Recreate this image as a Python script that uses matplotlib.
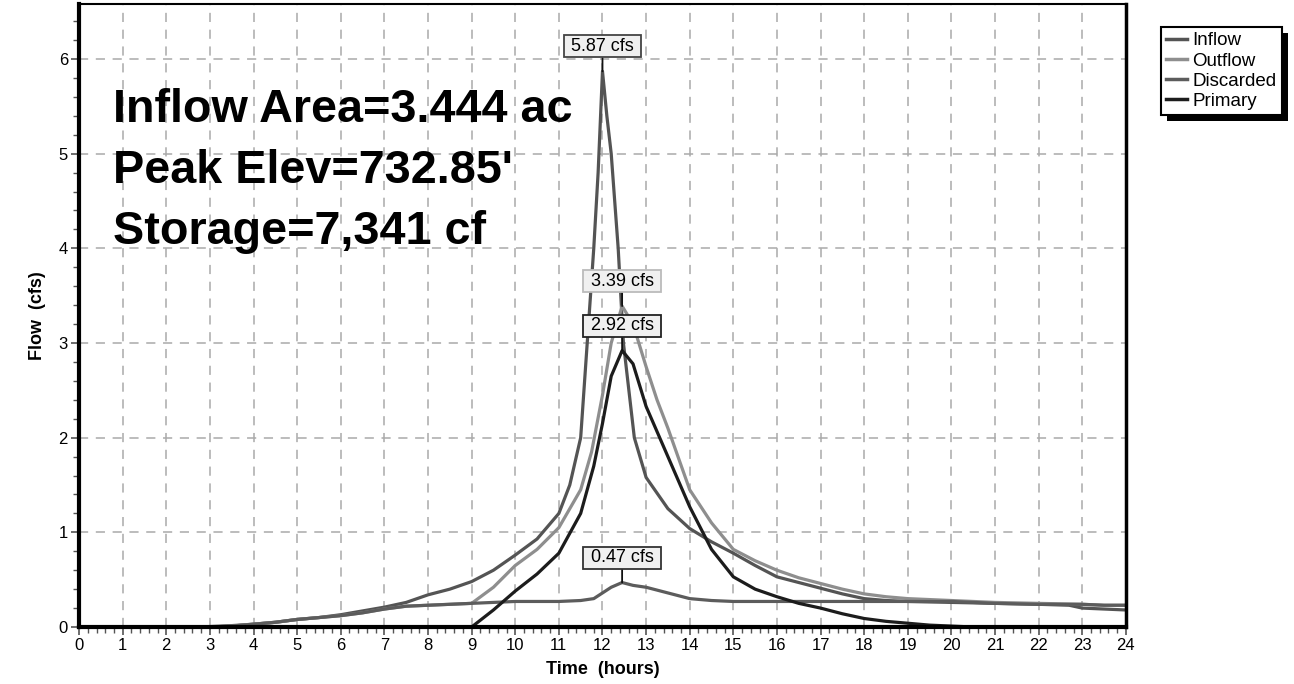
import matplotlib
matplotlib.use("Agg")
import matplotlib.pyplot as plt
import matplotlib.patheffects as pe
from matplotlib.ticker import MultipleLocator

plt.rcParams['font.family'] = ['Liberation Sans', 'DejaVu Sans']

# hydrograph values (hours, cfs)
inflow_t = [0, 2.5, 3, 3.5, 4, 4.5, 5, 5.5, 6, 6.5, 7, 7.5, 8, 8.5, 9, 9.5, 10, 10.5, 11,
            11.25, 11.5, 11.65, 11.8, 11.9, 12.0, 12.1, 12.2, 12.36, 12.48, 12.73, 13.0,
            13.5, 14, 14.5, 15, 15.5, 16, 16.5, 17, 17.5, 18, 18.5, 19, 20, 21, 22, 22.7,
            23, 23.5, 24]
inflow_q = [0, 0, 0.005, 0.015, 0.03, 0.05, 0.08, 0.1, 0.13, 0.17, 0.21, 0.26, 0.34, 0.4,
            0.48, 0.6, 0.76, 0.93, 1.2, 1.5, 2.0, 3.0, 4.0, 4.8, 5.87, 5.4, 5.0, 4.0, 3.0,
            2.0, 1.58, 1.25, 1.04, 0.9, 0.78, 0.65, 0.53, 0.47, 0.41, 0.35, 0.3, 0.28,
            0.27, 0.26, 0.25, 0.24, 0.23, 0.2, 0.19, 0.18]

outflow_t = [0, 3, 3.5, 4, 4.5, 5, 5.5, 6, 6.5, 7, 7.5, 8, 8.5, 9, 9.5, 10, 10.5, 11, 11.5,
             11.75, 12.0, 12.2, 12.45, 12.7, 13.0, 13.25, 13.5, 14, 14.5, 15, 15.5, 16,
             16.5, 17, 17.5, 18, 18.5, 19, 19.5, 20, 21, 22, 23, 23.5, 24]
outflow_q = [0, 0, 0.01, 0.03, 0.05, 0.08, 0.1, 0.12, 0.15, 0.19, 0.22, 0.23, 0.24, 0.25,
             0.42, 0.65, 0.82, 1.05, 1.45, 1.85, 2.45, 3.0, 3.39, 3.2, 2.75, 2.4, 2.1, 1.45,
             1.1, 0.82, 0.7, 0.6, 0.52, 0.46, 0.4, 0.35, 0.32, 0.3, 0.29, 0.28, 0.26, 0.25,
             0.24, 0.23, 0.23]

discarded_t = [0, 3, 3.5, 4, 4.5, 5, 5.5, 6, 6.5, 7, 7.5, 8, 8.5, 9, 10, 11, 11.5, 11.8,
               12.0, 12.2, 12.45, 12.7, 13.0, 13.5, 14, 14.5, 15, 16, 17, 18, 19, 20, 21,
               22, 23, 23.5, 24]
discarded_q = [0, 0, 0.01, 0.03, 0.05, 0.08, 0.1, 0.12, 0.15, 0.19, 0.22, 0.23, 0.24, 0.25,
               0.27, 0.27, 0.28, 0.3, 0.36, 0.42, 0.47, 0.44, 0.42, 0.36, 0.3, 0.28, 0.27,
               0.27, 0.27, 0.27, 0.27, 0.27, 0.25, 0.24, 0.24, 0.23, 0.23]

primary_t = [0, 9.0, 9.5, 10, 10.5, 11, 11.5, 11.8, 12.0, 12.2, 12.45, 12.7, 13.0, 13.5, 14,
             14.5, 15, 15.5, 16, 16.5, 17, 17.5, 18, 18.5, 19, 19.5, 20, 20.5, 24]
primary_q = [0, 0, 0.18, 0.38, 0.56, 0.78, 1.2, 1.7, 2.15, 2.65, 2.92, 2.78, 2.33, 1.8, 1.27,
             0.82, 0.53, 0.4, 0.32, 0.25, 0.2, 0.14, 0.09, 0.06, 0.04, 0.02, 0.01, 0, 0]

names = ['Inflow', 'Outflow', 'Discarded', 'Primary']
colors = ['#545454', '#8e8e8e', '#5c5c5c', '#1c1c1c']

# peak labels: (time, flow, text, box edge colour)
peaks = [(12.0, 5.87, '5.87 cfs', '#444444'),
         (12.45, 3.39, '3.39 cfs', '#bbbbbb'),
         (12.45, 2.92, '2.92 cfs', '#222222'),
         (12.45, 0.47, '0.47 cfs', '#333333')]

info = ['Inflow Area=3.444 ac', "Peak Elev=732.85'", 'Storage=7,341 cf']


def main():
    fig = plt.figure(figsize=(12.94, 6.84), dpi=100)
    ax = fig.add_axes([0.0611, 0.0833, 0.8090, 0.9107])

    series = [(inflow_t, inflow_q), (outflow_t, outflow_q),
              (discarded_t, discarded_q), (primary_t, primary_q)]
    for (t, q), name, c in zip(series, names, colors):
        ax.plot(t, q, color=c, linewidth=2.3, label=name, solid_joinstyle='round')

    ax.set_xlim(0, 24)
    ax.set_ylim(0, 6.58)
    ax.xaxis.set_major_locator(MultipleLocator(1))
    ax.xaxis.set_minor_locator(MultipleLocator(0.2))
    ax.yaxis.set_major_locator(MultipleLocator(1))
    ax.yaxis.set_minor_locator(MultipleLocator(0.2))
    ax.grid(True, which='major', color='#aaaaaa', linestyle=(0, (6, 5)), linewidth=1.1)
    ax.tick_params(which='major', length=6, width=1.2, color='#555555', labelsize=12, pad=2)
    ax.tick_params(which='minor', length=4, width=1.0, color='#555555')

    for side in ['left', 'bottom']:
        ax.spines[side].set_linewidth(3)
    ax.spines['top'].set_linewidth(1.5)
    ax.spines['right'].set_linewidth(2.5)

    ax.set_xlabel('Time  (hours)', fontsize=13, fontweight='bold', labelpad=6)
    ax.set_ylabel('Flow  (cfs)', fontsize=13, fontweight='bold', labelpad=9)

    for x, y, txt, ec in peaks:
        ax.annotate(' ' + txt + ' ', xy=(x, y), xytext=(0, 25), textcoords='offset pixels',
                    ha='center', va='center', fontsize=13,
                    bbox=dict(boxstyle='square,pad=0.14', fc='#f0f0f0', ec=ec, lw=1.3),
                    arrowprops=dict(arrowstyle='-', color='#111111', lw=1.3,
                                    shrinkA=0, shrinkB=0))

    for i, line in enumerate(info):
        ax.text(0.032, 0.8105 - i * 0.0979, line, transform=ax.transAxes,
                fontsize=33.7, fontweight='bold', va='baseline', ha='left')

    leg = fig.legend(loc='upper left', bbox_to_anchor=(0.897, 0.961), fontsize=13.5,
                     handlelength=1.1, handletextpad=0.3, labelspacing=0.16,
                     borderpad=0.3, borderaxespad=0, fancybox=False, frameon=True)
    fr = leg.get_frame()
    fr.set_edgecolor('black')
    fr.set_linewidth(1.5)
    fr.set_alpha(1)
    fr.set_path_effects([pe.SimplePatchShadow(offset=(4.3, -4.3), shadow_rgbFace='black',
                                              alpha=1),
                         pe.Normal()])
    for h in leg.get_lines():
        h.set_linewidth(2.5)

    fig.savefig('out.png', dpi=100)


if __name__ == '__main__':
    main()
